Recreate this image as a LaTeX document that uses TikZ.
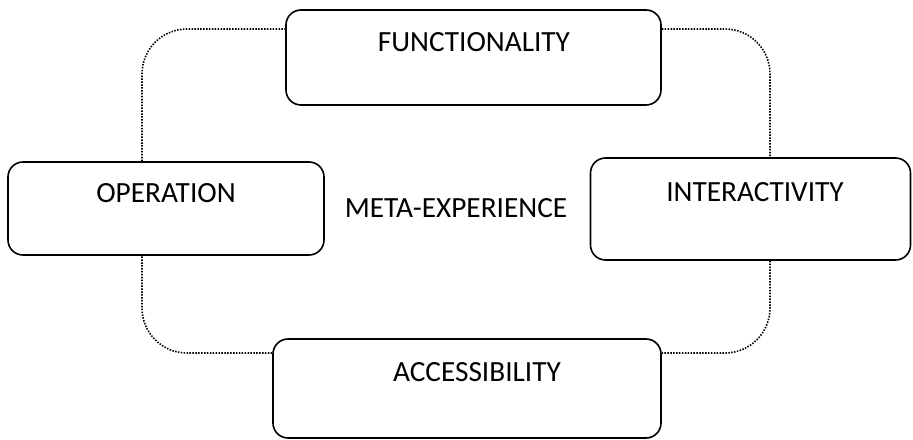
\documentclass[tikz,border=0pt]{standalone}
\usepackage{fontspec}
\setmainfont{Carlito}
\begin{document}
\begin{tikzpicture}[x=1bp,y=-1bp,
  boxstyle/.style={draw=black,line width=1.6bp,rounded corners=15bp,inner sep=0pt,fill=white},
  lbl/.style={font=\fontsize{29.4}{35}\selectfont,inner sep=0pt,anchor=base},
  dotline/.style={line width=1.6bp,dash pattern=on 1.5bp off 1.4bp,rounded corners=45bp}]
\useasboundingbox (0,0) rectangle (913,440);
% boxes
\node[boxstyle,minimum width=375bp,minimum height=95bp] (f) at (473.5,57.5) {};
\node[boxstyle,minimum width=316bp,minimum height=93bp] (o) at (166,208.5) {};
\node[boxstyle,minimum width=320bp,minimum height=102bp] (i) at (750.5,209) {};
\node[boxstyle,minimum width=388bp,minimum height=99bp] (a) at (467,388.5) {};
% loop corners
\coordinate (tl) at (142,29);
\coordinate (tr) at (770,29);
\coordinate (br) at (770,353);
\coordinate (bl) at (142,353);
% dotted connectors
\draw[dotline] (o.north -| tl) |- (f.west |- tl);
\draw[dotline] (f.east |- tr) -| (i.north -| tr);
\draw[dotline] (i.south -| br) |- (a.east |- br);
\draw[dotline] (a.west |- bl) -| (o.south -| bl);
% texts
\node[lbl] (tf) at (474,52) {FUNCTIONALITY};
\node[lbl] (to) at (166,203) {OPERATION};
\node[lbl] (ti) at (755,202) {INTERACTIVITY};
\node[lbl] (tm) at (456,218) {META-EXPERIENCE};
\node[lbl] (ta) at (477,382) {ACCESSIBILITY};
\end{tikzpicture}
\end{document}
